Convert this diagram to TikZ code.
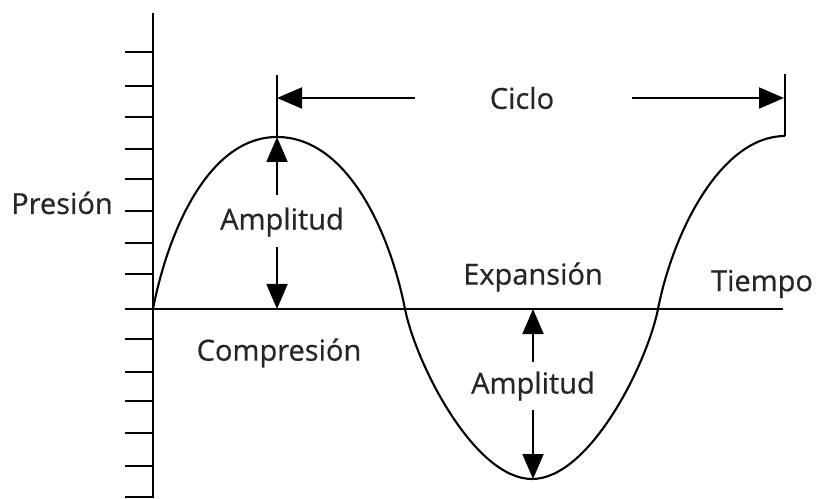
\documentclass[tikz,border=0pt]{standalone}
\usepackage{fontspec}
\setmainfont{Open Sans}
\newfontfamily\lblfont[FakeBold=0.6]{Open Sans}
\usetikzlibrary{arrows.meta}
\tikzset{
  axisline/.style={line width=2.6pt, black},
  tickline/.style={line width=2.6pt, black},
  wave/.style={line width=2.1pt, black},
  dimline/.style={line width=1.9pt, black},
  arr/.style={dimline, -{Triangle[length=25pt,width=21pt]}},
  lbl/.style={font=\lblfont\fontsize{29}{32}\selectfont, text=black!85, inner sep=0pt}
}
\begin{document}
\begin{tikzpicture}[x=1pt,y=1pt]
\useasboundingbox (0,0) rectangle (818,498);
% axes
\coordinate (O) at (153,189);
\coordinate (Ytop) at (153,485);
\coordinate (Ybot) at (153,0);
\coordinate (Xstart) at (125,189);
\coordinate (Xend) at (783,189);
\draw[axisline] (Ytop) -- (Ybot);
\draw[axisline] (Xstart) -- (Xend);
\foreach \ty in {446,412,381,349,319,287,255,224,159,126,97,65,32,1}
  \draw[tickline] (125,\ty) -- (153,\ty);
% wave points
\coordinate (S) at (153,189);
\coordinate (P) at (277,361);
\coordinate (C1) at (405,189);
\coordinate (T) at (532,19);
\coordinate (C2) at (658,189);
\coordinate (E) at (785,362);
\draw[wave] (S) .. controls (168,266.4) and (208.5,361) .. (P)
  .. controls (347,361) and (389.8,266.4) .. (C1)
  .. controls (416.4,132.9) and (474.8,19) .. (T)
  .. controls (589.2,19) and (646.6,132.9) .. (C2)
  .. controls (673.2,266.9) and (721.5,362) .. (E);
\coordinate (pk) at (277,361);
\coordinate (pkaxis) at (277,189);
\coordinate (tr) at (533,19);
\coordinate (traxis) at (533,189);
% cycle markers
\coordinate (cl) at (277,423);
\coordinate (cr) at (785,424);
\draw[dimline] (cl) -- (P);
\draw[dimline] (cr) -- (E);
\node[lbl] (ciclo) at (522,400) {Ciclo};
\coordinate (cla) at (415,400);
\coordinate (cra) at (632,400);
\draw[arr] (cla) -- (cl |- ciclo);
\draw[arr] (cra) -- ([xshift=-1pt]cr |- ciclo);
% amplitude (peak)
\node[lbl] (amp1) at (282,276) {Amplitud};
\coordinate (a1t) at (277,303);
\coordinate (a1b) at (277,251);
\draw[arr] (a1t) -- (pk);
\draw[arr] (a1b) -- (pkaxis);
% amplitude (trough)
\node[lbl] (amp2) at (533,112) {Amplitud};
\coordinate (a2t) at (533,136);
\coordinate (a2b) at (533,88);
\draw[arr] (a2t) -- (traxis);
\draw[arr] (a2b) -- (tr);
% labels
\node[lbl] (presion) at (62,295) {Presión};
\node[lbl] (expansion) at (533,221) {Expansión};
\node[lbl] (tiempo) at (762,214) {Tiempo};
\node[lbl] (compresion) at (279,145) {Compresión};
\end{tikzpicture}
\end{document}
